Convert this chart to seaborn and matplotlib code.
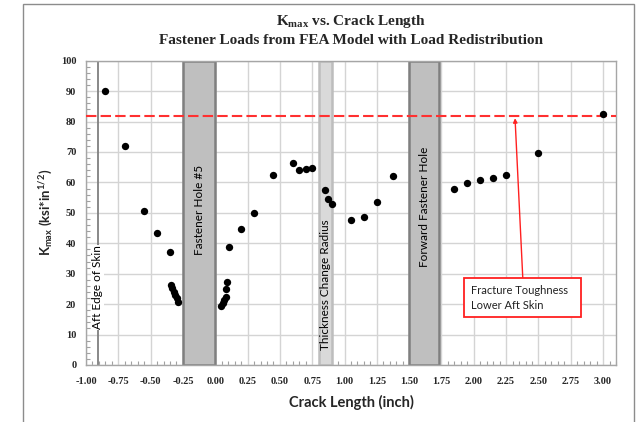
import matplotlib
matplotlib.use("Agg")
import matplotlib.pyplot as plt
import matplotlib.patches as mpatches
from matplotlib.ticker import MultipleLocator, FormatStrFormatter
import numpy as np
import pandas as pd
import seaborn as sns

# ---- data ----
crack_length = [-0.85, -0.70, -0.55, -0.45, -0.35,
                -0.345, -0.333, -0.321, -0.309, -0.297, -0.286,
                0.045, 0.058, 0.071, 0.082, 0.085, 0.093, 0.106,
                0.20, 0.30, 0.45, 0.60, 0.65, 0.70, 0.75,
                0.85, 0.875, 0.90, 1.05, 1.15, 1.25, 1.375,
                1.85, 1.95, 2.05, 2.15, 2.25, 2.50, 3.00]
kmax = [89.9, 72.0, 50.6, 43.3, 37.1,
        26.3, 25.2, 24.1, 23.0, 21.9, 20.8,
        19.4, 20.4, 21.4, 22.2, 24.9, 27.4, 38.9,
        44.7, 50.1, 62.5, 66.3, 64.1, 64.4, 64.7,
        57.6, 54.6, 52.9, 47.6, 48.7, 53.6, 62.1,
        57.9, 59.9, 60.8, 61.6, 62.5, 69.6, 82.5]
fracture_toughness = 81.7
aft_edge = -0.91
band_names = ["Fastener Hole #5", "Thickness Change Radius", "Forward Fastener Hole"]
band_start = [-0.25, 0.805, 1.50]
band_end = [0.0, 0.905, 1.73]
x_ticks = [-1.00, -0.75, -0.50, -0.25, 0.00, 0.25, 0.50, 0.75, 1.00,
           1.25, 1.50, 1.75, 2.00, 2.25, 2.50, 2.75, 3.00]
y_ticks = [0, 10, 20, 30, 40, 50, 60, 70, 80, 90, 100]

df = pd.DataFrame({"x": crack_length, "y": kmax})

sns.set_style("white")
plt.rcParams["font.family"] = ["Lato", "DejaVu Sans"]
plt.rcParams["mathtext.default"] = "regular"

fig = plt.figure(figsize=(6.41, 4.22), dpi=100)
ax = fig.add_axes([86 / 641, 1 - 365 / 422, (616 - 86) / 641, (365 - 60.7) / 422])

# outer chart frame
fig.patches.append(mpatches.Rectangle((23 / 641, -0.1), (634 - 23) / 641, 1.1 - 4 / 422,
                                      transform=fig.transFigure, fill=False,
                                      edgecolor="#8c8c8c", linewidth=1.0))

ax.set_xlim(-1.0, 3.1)
ax.set_ylim(0, 100)
ax.set_xticks(x_ticks)
ax.set_yticks(y_ticks)
ax.xaxis.set_major_formatter(FormatStrFormatter("%.2f"))
ax.xaxis.set_minor_locator(MultipleLocator(0.05))
ax.yaxis.set_minor_locator(MultipleLocator(2))
ax.grid(True, which="major", color="#d4d4d4", linewidth=1.0, zorder=0)
ax.set_axisbelow(True)

for lab in ax.get_xticklabels() + ax.get_yticklabels():
    lab.set_fontfamily("Liberation Serif")
    lab.set_fontweight("bold")
    lab.set_fontsize(7.5)
ax.tick_params(axis="x", which="major", length=0, pad=9)
ax.tick_params(axis="y", which="major", length=4, direction="out", color="#a0a0a0", pad=3)
ax.tick_params(which="minor", direction="in", length=3, color="#a0a0a0", width=0.8)
ax.tick_params(axis="x", which="minor", bottom=True)
ax.tick_params(axis="y", which="minor", left=True)

for s in ax.spines.values():
    s.set_color("#a6a6a6")
    s.set_linewidth(1.0)

# bands
band_face = ["#bfbfbf", "#d9d9d9", "#bfbfbf"]
band_edge = ["#7f7f7f", "#bdbdbd", "#7f7f7f"]
for name, x0, x1, fc, ec in zip(band_names, band_start, band_end, band_face, band_edge):
    ax.add_patch(mpatches.Rectangle((x0, 0), x1 - x0, 100, facecolor=fc, edgecolor=ec,
                                    linewidth=1.8, zorder=1))
ycent = [51, 26.5, 52]
for name, x0, x1, yc in zip(band_names, band_start, band_end, ycent):
    ax.text((x0 + x1) / 2, yc, name, rotation=90, ha="center", va="center",
            fontsize=8.5, color="black", zorder=4)

# aft edge line
ax.axvline(aft_edge, color="#7f7f7f", linewidth=1.3, zorder=2)
ax.text(aft_edge, 25.5, "Aft Edge of Skin", rotation=90, ha="center", va="center",
        fontsize=8.5, color="black", zorder=4,
        bbox=dict(facecolor="white", edgecolor="none", pad=0.5))

# fracture toughness line
ax.axhline(fracture_toughness, color="#ff3030", linewidth=1.5, dashes=(5, 2), zorder=3)

sns.scatterplot(data=df, x="x", y="y", ax=ax, color="black", s=28,
                edgecolor="black", linewidth=0, zorder=5, legend=False)

# annotation
ax.annotate("", xy=(2.319, fracture_toughness - 0.6), xytext=(2.379, 28.5),
            arrowprops=dict(arrowstyle="-|>", color="#ff2020", lw=1.0,
                            mutation_scale=6, shrinkA=0, shrinkB=0), zorder=6)
ax.add_patch(mpatches.Rectangle((1.925, 15.7), 0.902, 12.8, facecolor="white",
                                edgecolor="#ff2020", linewidth=1.3, zorder=6))
ax.text(1.975, 22.1, "Fracture Toughness\nLower Aft Skin", ha="left", va="center",
        fontsize=8, color="#222222", linespacing=1.45, zorder=7)

ax.set_xlabel("Crack Length (inch)", fontsize=10.5, fontweight="bold", labelpad=6)
ax.set_ylabel(r"K$_{max}$ (ksi*in$^{1/2}$)", fontsize=9.5, fontweight="bold", labelpad=4)
ax.set_title("K$_{max}$ vs. Crack Length\nFastener Loads from FEA Model with Load Redistribution",
             fontfamily="Liberation Serif", fontweight="bold", fontsize=11, pad=12,
             linespacing=1.45)

fig.savefig("out.png", dpi=100, facecolor="white")
